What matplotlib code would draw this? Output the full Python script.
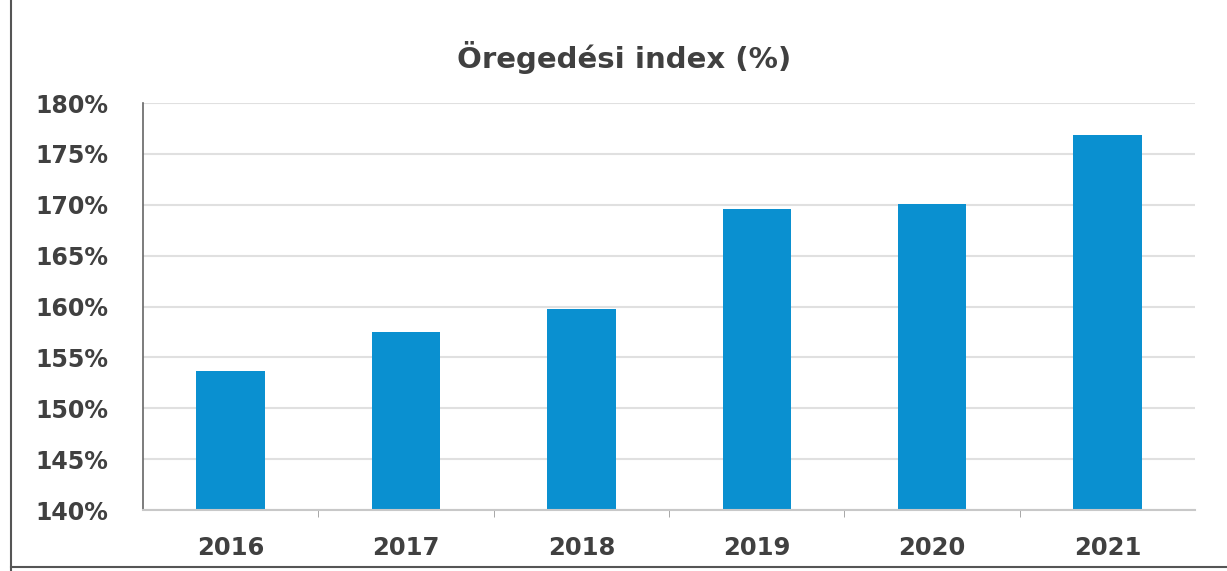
import matplotlib.pyplot as plt
from matplotlib.lines import Line2D
from matplotlib.ticker import FixedLocator

# data
years = ['2016', '2017', '2018', '2019', '2020', '2021']
index_pct = [153.7, 157.5, 159.8, 169.6, 170.1, 176.9]
yticks = [140, 145, 150, 155, 160, 165, 170, 175, 180]

plt.rcParams['font.family'] = ['DejaVu Sans']
txt = '#404040'

fig = plt.figure(figsize=(12.27, 5.71), dpi=100)
ax = fig.add_axes([0.1165, 0.1068, 0.8575, 0.7128])

x = range(len(years))
ax.bar(x, index_pct, width=0.39, color='#0a90d0', zorder=2)

ax.set_xlim(-0.5, len(years) - 0.5)
ax.set_ylim(140, 180)
ax.set_yticks(yticks)
ax.set_yticklabels([f'{v}%' for v in yticks], fontsize=17, fontweight='bold', color=txt)
ax.set_xticks(list(x))
ax.set_xticklabels(years, fontsize=17.5, fontweight='bold', color=txt)
ax.xaxis.set_minor_locator(FixedLocator([i + 0.5 for i in range(len(years) - 1)]))
ax.tick_params(axis='y', length=0, pad=25)
ax.tick_params(axis='x', which='major', length=0, pad=19)
ax.tick_params(axis='x', which='minor', length=5, color='#999999')

ax.grid(axis='y', color='#e0e0e0', linewidth=1.5, zorder=0)
ax.set_axisbelow(True)
for s in ['top', 'right']:
    ax.spines[s].set_visible(False)
ax.spines['left'].set_color('#666666')
ax.spines['left'].set_linewidth(1.2)
ax.spines['bottom'].set_color('#c8c8c8')
ax.spines['bottom'].set_linewidth(1.5)

fig.text(0.509, 0.90, 'Öregedési index (%)', ha='center', va='center',
         fontsize=21, fontweight='bold', color=txt)

# scan frame edges
fig.add_artist(Line2D([0.009, 0.009], [0.0, 1.0], color='#555555', lw=1.5))
fig.add_artist(Line2D([0.009, 1.0], [0.007, 0.007], color='#555555', lw=1.5))

fig.savefig('out.png', dpi=100, facecolor='white')
